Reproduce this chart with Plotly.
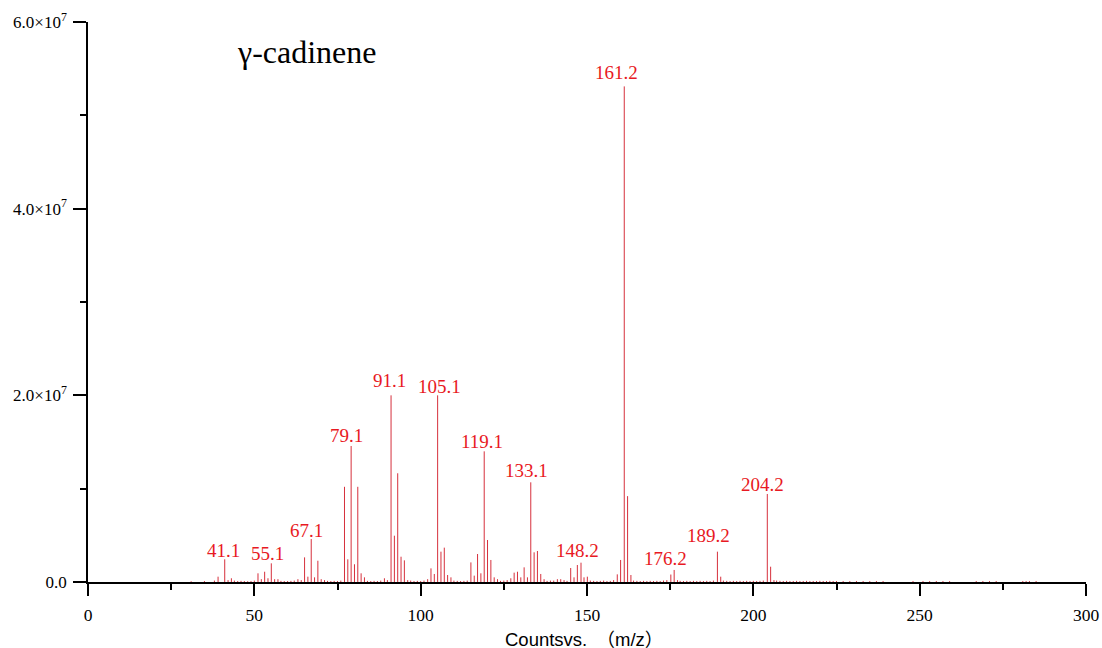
import plotly.graph_objects as go

# ---- data ----
peak_mz = [39.1, 41.1, 42.1, 43.1, 51.1, 52.1, 53.1, 54.1, 55.1, 56.1, 57.1,
           63.1, 64.1, 65.1, 66.1, 67.1, 68.1, 69.1, 70.1, 71.1,
           77.1, 78.1, 79.1, 80.1, 81.1, 82.1, 83.1, 89.1,
           91.1, 92.1, 93.1, 94.1, 95.1, 96.1,
           102.1, 103.1, 104.1, 105.1, 106.1, 107.1, 108.1, 109.1,
           115.1, 116.1, 117.1, 118.1, 119.1, 120.1, 121.1, 122.1, 123.1,
           127.1, 128.1, 129.1, 130.1, 131.1, 132.1, 133.1, 134.1, 135.1, 136.1, 137.1,
           141.1, 142.1, 143.1, 145.1, 146.1, 147.1, 148.2, 149.1, 150.1,
           159.1, 160.1, 161.2, 162.2, 163.2,
           175.2, 176.2, 177.2, 189.2, 190.2, 204.2, 205.2, 206.2]
peak_int = [0.57e6, 2.43e6, 0.2e6, 0.4e6, 0.93e6, 0.3e6, 1.1e6, 0.4e6, 2.0e6, 0.3e6, 0.3e6,
            0.3e6, 0.2e6, 2.64e6, 0.57e6, 4.6e6, 0.5e6, 2.28e6, 0.3e6, 0.2e6,
            1.02e7, 2.43e6, 1.457e7, 1.9e6, 1.02e7, 0.93e6, 0.5e6, 0.4e6,
            2.0e7, 4.96e6, 1.165e7, 2.71e6, 2.32e6, 0.2e6,
            0.3e6, 1.46e6, 0.86e6, 2.0e7, 3.25e6, 3.68e6, 0.75e6, 0.5e6,
            2.1e6, 0.68e6, 3.0e6, 0.93e6, 1.40e7, 4.5e6, 2.36e6, 0.5e6, 0.3e6,
            0.4e6, 1.0e6, 1.1e6, 0.5e6, 1.57e6, 0.5e6, 1.068e7, 3.18e6, 3.32e6, 0.86e6, 0.3e6,
            0.3e6, 0.3e6, 0.2e6, 1.5e6, 0.5e6, 1.82e6, 2.07e6, 0.5e6, 0.57e6,
            0.82e6, 2.36e6, 5.31e7, 9.2e6, 0.75e6,
            0.8e6, 1.29e6, 0.2e6, 3.25e6, 0.57e6, 9.43e6, 1.64e6, 0.2e6]

noise_mz = [31.0, 35.0, 38.0, 44.0, 45.0, 46.0, 47.0, 48.0, 49.0, 50.0, 58.0, 59.0, 60.0, 61.0, 62.0,
            72.0, 73.0, 74.0, 75.0, 76.0, 84.0, 85.0, 86.0, 87.0, 88.0, 90.0, 97.0, 98.0, 99.0, 100.0, 101.0,
            110.0, 111.0, 112.0, 113.0, 114.0, 124.0, 125.0, 126.0, 138.0, 139.0, 140.0, 144.0,
            151.0, 152.0, 153.0, 154.0, 155.0, 156.0, 157.0, 158.0,
            164.0, 165.0, 166.0, 167.0, 168.0, 169.0, 170.0, 171.0, 172.0, 173.0, 174.0,
            178.0, 179.0, 180.0, 181.0, 182.0, 183.0, 184.0, 185.0, 186.0, 187.0, 188.0,
            191.0, 192.0, 193.0, 194.0, 195.0, 196.0, 197.0, 198.0, 199.0, 200.0, 201.0, 202.0, 203.0,
            207.0, 208.0, 209.0, 210.0, 211.0, 212.0, 213.0, 214.0, 215.0, 216.0, 217.0, 218.0, 219.0,
            220.0, 221.0, 222.0, 223.0, 224.0, 225.0, 227.0, 229.0, 231.0, 233.0, 235.0, 237.0, 239.0,
            248.0, 251.0, 253.0, 255.0, 257.0, 259.0, 267.0, 269.0, 271.0, 273.0, 281.0, 282.0, 283.0, 285.0]
noise_int = [0.08e6, 0.1e6, 0.15e6, 0.15e6, 0.1e6, 0.12e6, 0.1e6, 0.08e6, 0.1e6, 0.15e6, 0.12e6, 0.1e6, 0.1e6, 0.12e6, 0.15e6,
             0.12e6, 0.1e6, 0.12e6, 0.1e6, 0.15e6, 0.12e6, 0.1e6, 0.12e6, 0.1e6, 0.15e6, 0.2e6, 0.15e6, 0.1e6, 0.12e6, 0.1e6, 0.15e6,
             0.15e6, 0.12e6, 0.1e6, 0.12e6, 0.15e6, 0.12e6, 0.15e6, 0.2e6, 0.12e6, 0.15e6, 0.15e6, 0.12e6,
             0.15e6, 0.12e6, 0.1e6, 0.12e6, 0.15e6, 0.1e6, 0.12e6, 0.2e6,
             0.15e6, 0.12e6, 0.1e6, 0.12e6, 0.1e6, 0.12e6, 0.1e6, 0.12e6, 0.1e6, 0.15e6, 0.2e6,
             0.12e6, 0.1e6, 0.12e6, 0.1e6, 0.12e6, 0.1e6, 0.12e6, 0.1e6, 0.12e6, 0.1e6, 0.15e6,
             0.15e6, 0.12e6, 0.1e6, 0.12e6, 0.1e6, 0.12e6, 0.1e6, 0.12e6, 0.1e6, 0.12e6, 0.1e6, 0.12e6, 0.15e6,
             0.15e6, 0.12e6, 0.1e6, 0.12e6, 0.1e6, 0.1e6, 0.12e6, 0.1e6, 0.1e6, 0.12e6, 0.1e6, 0.1e6, 0.1e6,
             0.12e6, 0.1e6, 0.1e6, 0.12e6, 0.1e6, 0.1e6, 0.1e6, 0.1e6, 0.1e6, 0.1e6, 0.1e6, 0.1e6, 0.1e6,
             0.1e6, 0.1e6, 0.1e6, 0.1e6, 0.1e6, 0.1e6, 0.1e6, 0.1e6, 0.1e6, 0.1e6, 0.1e6, 0.1e6, 0.1e6, 0.1e6]

label_mz = [41.1, 55.1, 67.1, 79.1, 91.1, 105.1, 119.1, 133.1, 148.2, 161.2, 176.2, 189.2, 204.2]
label_text = ["41.1", "55.1", "67.1", "79.1", "91.1", "105.1", "119.1", "133.1",
              "148.2", "161.2", "176.2", "189.2", "204.2"]

compound = "γ-cadinene"
x_title = "Countsvs.\u2002（m/z）"
y_tickvals = [0, 2e7, 4e7, 6e7]
y_ticktext = ["0.0", "2.0×10<sup>7</sup>", "4.0×10<sup>7</sup>", "6.0×10<sup>7</sup>"]

# ---- styling ----
BAR_COLOR = "rgb(214,48,60)"
LABEL_COLOR = "rgb(232,25,35)"
SERIF = "Liberation Serif, Times New Roman, serif"
SANS = "Liberation Sans, Arial, Noto Sans CJK SC, sans-serif"

# label pixel nudges (horizontal offset, gap above the peak)
label_dx = [-1.7, -3.7, -5, -4.7, -1.7, 1.5, -2.7, -4, -3.3, -7.5, -9, -8.5, -4.7]
label_gap = [1.5, 2, 1, 3, 7, 1, 2, 4, 5, 6, 4, 9, 2.3]


def stick_xy(mzs, ints):
    xs, ys = [], []
    for m, v in zip(mzs, ints):
        xs += [m, m, None]
        ys += [0, v, None]
    return xs, ys


fig = go.Figure()
nx, ny = stick_xy(noise_mz, noise_int)
fig.add_trace(go.Scatter(x=nx, y=ny, mode="lines",
                         line=dict(color=BAR_COLOR, width=1), hoverinfo="skip", showlegend=False))
px_, py_ = stick_xy(peak_mz, peak_int)
fig.add_trace(go.Scatter(x=px_, y=py_, mode="lines",
                         line=dict(color=BAR_COLOR, width=1), showlegend=False))

lookup = dict(zip(peak_mz, peak_int))
for m, t, dx, gap in zip(label_mz, label_text, label_dx, label_gap):
    fig.add_annotation(x=m, y=lookup[m], text=t, showarrow=False,
                       xanchor="center", yanchor="bottom",
                       xshift=dx, yshift=gap - 5,
                       font=dict(family=SERIF, size=19, color=LABEL_COLOR))

fig.add_annotation(x=44.3, y=5.68e7, text=compound, showarrow=False,
                   xanchor="left", yanchor="middle",
                   font=dict(family=SERIF, size=32, color="black"))

# x-axis title placed below the tick labels
fig.add_annotation(x=124.6, xref="x", y=0, yref="paper", text=x_title, showarrow=False,
                   xanchor="left", yanchor="top", yshift=-44.5,
                   font=dict(family=SANS, size=18.5, color="black"))

fig.update_layout(
    width=1102, height=648,
    margin=dict(l=87.5, r=16, t=22, b=66, autoexpand=False),
    plot_bgcolor="white", paper_bgcolor="white",
    xaxis=dict(range=[0, 300], dtick=50, tick0=0, showgrid=False, zeroline=False,
               showline=True, linecolor="black", linewidth=1.5,
               ticks="outside", ticklen=12, tickwidth=1.5, tickcolor="black",
               ticklabelstandoff=4,
               minor=dict(dtick=25, ticks="outside", ticklen=6, tickwidth=1.5, tickcolor="black"),
               tickfont=dict(family=SERIF, size=17.5, color="black")),
    yaxis=dict(range=[0, 6e7], tickvals=y_tickvals, ticktext=y_ticktext,
               showgrid=False, zeroline=False,
               showline=True, linecolor="black", linewidth=1.5,
               ticks="outside", ticklen=13, tickwidth=1.5, tickcolor="black",
               ticklabelstandoff=3,
               minor=dict(tickvals=[1e7, 3e7, 5e7], ticks="outside", ticklen=6, tickwidth=1.5, tickcolor="black"),
               tickfont=dict(family=SERIF, size=17, color="black")),
)

fig.write_html("out.html", config={"displayModeBar": False},
               post_script="document.body.style.margin='0';document.body.style.overflow='hidden';")
